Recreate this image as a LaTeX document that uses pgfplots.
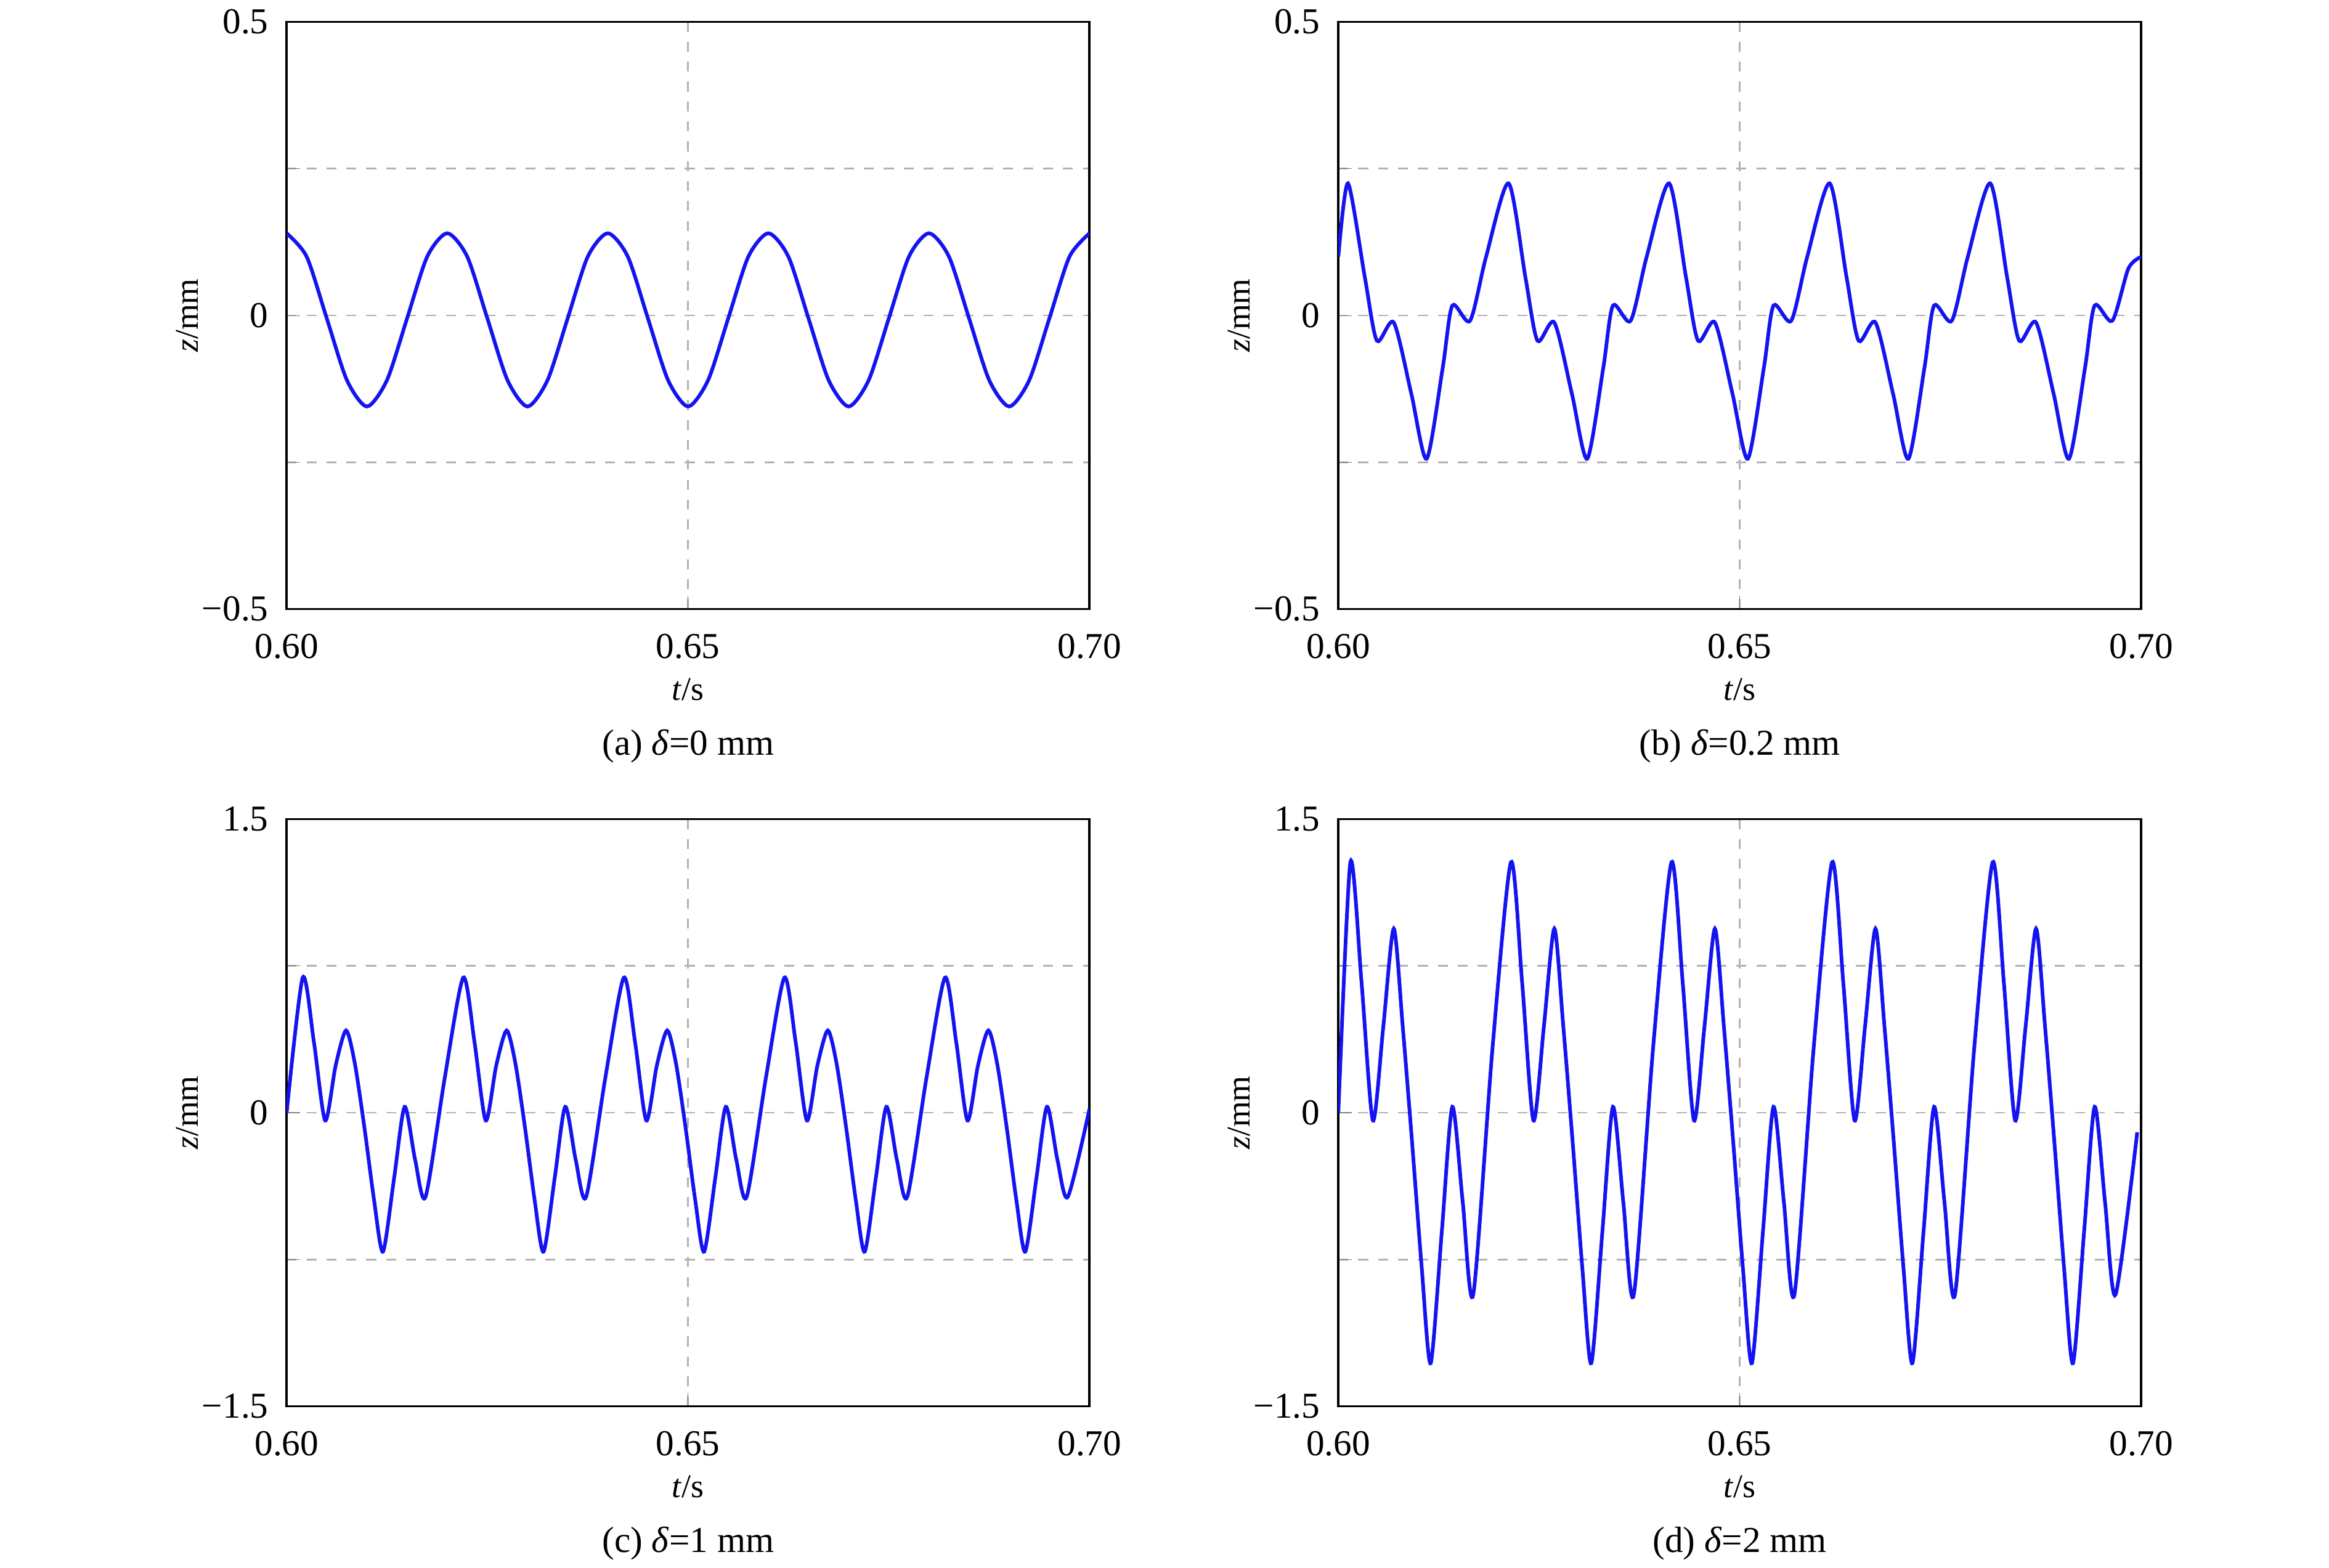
\documentclass[border=0pt]{standalone}
\usepackage{pgfplots}
\pgfplotsset{compat=1.18}
\usepackage{fontspec}
\setmainfont{Liberation Serif}
\pgfplotsset{
 panel/.style={width=242pt,height=177pt,scale only axis,xmin=0.6,xmax=0.7,
  xtick={0.6,0.65,0.7},xticklabels={0.60,0.65,0.70},
  tick pos=left,tick align=inside,major tick length=4pt,
  grid=major,grid style={gray!60,dashed,line width=0.5pt},
  axis line style={line width=0.7pt},
  tick label style={font=\fontsize{11}{12}\selectfont},
  xticklabel style={yshift=-4pt},
  yticklabel style={xshift=-2pt},
  label style={font=\fontsize{11}{12}\selectfont},
  xlabel={\textit{t}/s},ylabel={\textit{z}/mm},
  every axis x label/.style={at={(rel axis cs:0.5,0)},anchor=center,yshift=-24.3pt},
  every axis y label/.style={at={(rel axis cs:0,0.5)},anchor=center,rotate=90,yshift=30pt},
  clip mode=individual},
 curve/.style={color={rgb,255:red,20;green,20;blue,240},line width=1.1pt,smooth,tension=0.45,no marks}
}
\begin{document}
\begin{tikzpicture}
\useasboundingbox (-86.4pt,-288.9pt) rectangle (615.6pt,183.6pt);
% (a)
\begin{axis}[panel,at={(0,0)},ymin=-0.5,ymax=0.5,ytick={-0.5,-0.25,0,0.25,0.5},yticklabels={−0.5,,0,,0.5}]
\addplot[curve] coordinates {
(0.6000,0.140)(0.6025,0.100)(0.6050,-0.005)(0.6075,-0.110)(0.6100,-0.155)(0.6125,-0.110)(0.6150,-0.005)(0.6175,0.100)
(0.6200,0.140)(0.6225,0.100)(0.6250,-0.005)(0.6275,-0.110)(0.6300,-0.155)(0.6325,-0.110)(0.6350,-0.005)(0.6375,0.100)
(0.6400,0.140)(0.6425,0.100)(0.6450,-0.005)(0.6475,-0.110)(0.6500,-0.155)(0.6525,-0.110)(0.6550,-0.005)(0.6575,0.100)
(0.6600,0.140)(0.6625,0.100)(0.6650,-0.005)(0.6675,-0.110)(0.6700,-0.155)(0.6725,-0.110)(0.6750,-0.005)(0.6775,0.100)
(0.6800,0.140)(0.6825,0.100)(0.6850,-0.005)(0.6875,-0.110)(0.6900,-0.155)(0.6925,-0.110)(0.6950,-0.005)(0.6975,0.100)
(0.7000,0.140)};
\node[font=\fontsize{11}{12}\selectfont] at (rel axis cs:0.5,0) [yshift=-41.4pt] {(a) \textit{δ}=0 mm};
\end{axis}
% (b)
\begin{axis}[panel,at={(317pt,0)},ymin=-0.5,ymax=0.5,ytick={-0.5,-0.25,0,0.25,0.5},yticklabels={−0.5,,0,,0.5}]
\addplot[curve] coordinates {
(0.6000,0.100)
(0.6012,0.225)(0.6033,0.065)(0.6048,-0.043)(0.6069,-0.012)(0.6091,-0.134)(0.6110,-0.244)(0.6130,-0.089)(0.6142,0.017)(0.6164,-0.009)(0.6184,0.100)
(0.6212,0.225)(0.6233,0.065)(0.6248,-0.043)(0.6269,-0.012)(0.6291,-0.134)(0.6310,-0.244)(0.6330,-0.089)(0.6342,0.017)(0.6364,-0.009)(0.6384,0.100)
(0.6412,0.225)(0.6433,0.065)(0.6448,-0.043)(0.6469,-0.012)(0.6491,-0.134)(0.6510,-0.244)(0.6530,-0.089)(0.6542,0.017)(0.6564,-0.009)(0.6584,0.100)
(0.6612,0.225)(0.6633,0.065)(0.6648,-0.043)(0.6669,-0.012)(0.6691,-0.134)(0.6710,-0.244)(0.6730,-0.089)(0.6742,0.017)(0.6764,-0.009)(0.6784,0.100)
(0.6812,0.225)(0.6833,0.065)(0.6848,-0.043)(0.6869,-0.012)(0.6891,-0.134)(0.6910,-0.244)(0.6930,-0.089)(0.6942,0.017)(0.6964,-0.009)(0.6984,0.080)
(0.7000,0.100)};
\node[font=\fontsize{11}{12}\selectfont] at (rel axis cs:0.5,0) [yshift=-41.4pt] {(b) \textit{δ}=0.2 mm};
\end{axis}
% (c)
\begin{axis}[panel,at={(0,-240.3pt)},ymin=-1.5,ymax=1.5,ytick={-1.5,-0.75,0,0.75,1.5},yticklabels={−1.5,,0,,1.5}]
\addplot[curve] coordinates {
(0.6000,0.00)
(0.6020,0.69)(0.6034,0.36)(0.6048,-0.04)(0.6061,0.24)(0.6074,0.42)(0.6085,0.25)(0.6097,-0.08)(0.6109,-0.45)(0.6120,-0.71)(0.6134,-0.33)(0.6147,0.03)(0.6160,-0.24)(0.6173,-0.43)(0.6197,0.18)
(0.6220,0.69)(0.6234,0.36)(0.6248,-0.04)(0.6261,0.24)(0.6274,0.42)(0.6285,0.25)(0.6297,-0.08)(0.6309,-0.45)(0.6320,-0.71)(0.6334,-0.33)(0.6347,0.03)(0.6360,-0.24)(0.6373,-0.43)(0.6397,0.18)
(0.6420,0.69)(0.6434,0.36)(0.6448,-0.04)(0.6461,0.24)(0.6474,0.42)(0.6485,0.25)(0.6497,-0.08)(0.6509,-0.45)(0.6520,-0.71)(0.6534,-0.33)(0.6547,0.03)(0.6560,-0.24)(0.6573,-0.43)(0.6597,0.18)
(0.6620,0.69)(0.6634,0.36)(0.6648,-0.04)(0.6661,0.24)(0.6674,0.42)(0.6685,0.25)(0.6697,-0.08)(0.6709,-0.45)(0.6720,-0.71)(0.6734,-0.33)(0.6747,0.03)(0.6760,-0.24)(0.6773,-0.43)(0.6797,0.18)
(0.6820,0.69)(0.6834,0.36)(0.6848,-0.04)(0.6861,0.24)(0.6874,0.42)(0.6885,0.25)(0.6897,-0.08)(0.6909,-0.45)(0.6920,-0.71)(0.6934,-0.33)(0.6947,0.03)(0.6960,-0.24)(0.6973,-0.43)
(0.7000,0.02)};
\node[font=\fontsize{11}{12}\selectfont] at (rel axis cs:0.5,0) [yshift=-41.4pt] {(c) \textit{δ}=1 mm};
\end{axis}
% (d)
\begin{axis}[panel,at={(317pt,-240.3pt)},ymin=-1.5,ymax=1.5,ytick={-1.5,-0.75,0,0.75,1.5},yticklabels={−1.5,,0,,1.5}]
\addplot[curve] coordinates {
(0.6000,0.00)
(0.6015,1.28)(0.6029,0.66)(0.6043,-0.04)(0.6056,0.44)(0.6069,0.94)(0.6080,0.45)(0.6092,-0.16)(0.6104,-0.80)(0.6115,-1.28)(0.6129,-0.60)(0.6142,0.03)(0.6155,-0.46)(0.6168,-0.93)(0.6192,0.33)
(0.6215,1.28)(0.6229,0.66)(0.6243,-0.04)(0.6256,0.44)(0.6269,0.94)(0.6280,0.45)(0.6292,-0.16)(0.6304,-0.80)(0.6315,-1.28)(0.6329,-0.60)(0.6342,0.03)(0.6355,-0.46)(0.6368,-0.93)(0.6392,0.33)
(0.6415,1.28)(0.6429,0.66)(0.6443,-0.04)(0.6456,0.44)(0.6469,0.94)(0.6480,0.45)(0.6492,-0.16)(0.6504,-0.80)(0.6515,-1.28)(0.6529,-0.60)(0.6542,0.03)(0.6555,-0.46)(0.6568,-0.93)(0.6592,0.33)
(0.6615,1.28)(0.6629,0.66)(0.6643,-0.04)(0.6656,0.44)(0.6669,0.94)(0.6680,0.45)(0.6692,-0.16)(0.6704,-0.80)(0.6715,-1.28)(0.6729,-0.60)(0.6742,0.03)(0.6755,-0.46)(0.6768,-0.93)(0.6792,0.33)
(0.6815,1.28)(0.6829,0.66)(0.6843,-0.04)(0.6856,0.44)(0.6869,0.94)(0.6880,0.45)(0.6892,-0.16)(0.6904,-0.80)(0.6915,-1.28)(0.6929,-0.60)(0.6942,0.03)(0.6955,-0.46)(0.6968,-0.93)
(0.6995,-0.10)};
\node[font=\fontsize{11}{12}\selectfont] at (rel axis cs:0.5,0) [yshift=-41.4pt] {(d) \textit{δ}=2 mm};
\end{axis}
\end{tikzpicture}
\end{document}
